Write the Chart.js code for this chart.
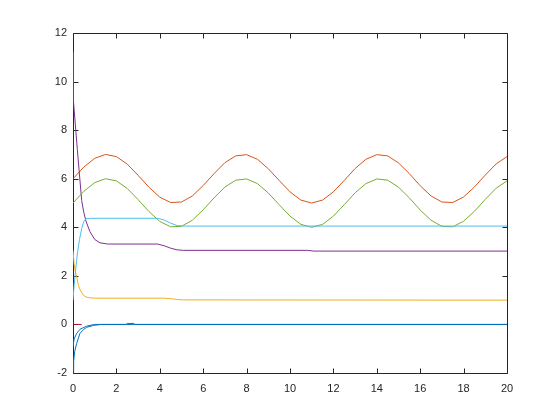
<!DOCTYPE html>
<html>
<head>
<meta charset="utf-8">
<script src="https://cdn.jsdelivr.net/npm/chart.js@4/dist/chart.umd.min.js"></script>
<style>
html,body{margin:0;padding:0;background:#fff;}
#c{display:block;}
</style>
</head>
<body>
<canvas id="c" width="560" height="420"></canvas>
<script>
// ---- data ----
const xTicks = [0, 2, 4, 6, 8, 10, 12, 14, 16, 18, 20];
const yTicks = [-2, 0, 2, 4, 6, 8, 10, 12];

const tWave = [0,0.5,1,1.5,2,2.5,3,3.5,4,4.5,5,5.5,6,6.5,7,7.5,8,8.5,9,9.5,10,10.5,11,11.5,12,12.5,13,13.5,14,14.5,15,15.5,16,16.5,17,17.5,18,18.5,19,19.5,20];
const orangeVals = [6.00,6.48,6.84,7.00,6.91,6.60,6.14,5.65,5.24,5.02,5.04,5.29,5.72,6.21,6.66,6.94,6.99,6.80,6.41,5.93,5.46,5.12,5.00,5.12,5.46,5.93,6.42,6.80,6.99,6.94,6.65,6.21,5.71,5.29,5.04,5.02,5.25,5.66,6.15,6.61,6.91];
const greenVals  = [5.00,5.48,5.84,6.00,5.91,5.60,5.14,4.65,4.24,4.02,4.04,4.29,4.72,5.21,5.66,5.94,5.99,5.80,5.41,4.93,4.46,4.12,4.00,4.12,4.46,4.93,5.42,5.80,5.99,5.94,5.65,5.21,4.71,4.29,4.04,4.02,4.25,4.66,5.15,5.61,5.91];

const tPurple = [0,0.02,0.2,0.4,0.5,0.6,0.78,1.0,1.24,1.6,3.9,4.2,4.5,4.8,5.1,10.8,11.1,20];
const purpleVals = [11.2,9.2,7.2,5.1,4.6,4.25,3.82,3.5,3.36,3.31,3.31,3.24,3.14,3.07,3.05,3.05,3.02,3.02];

const tLightBlue = [0,0.05,0.1,0.2,0.3,0.4,0.5,0.6,0.8,3.9,4.2,4.5,4.8,5.1,20];
const lightBlueVals = [1.0,1.6,2.05,2.9,3.5,3.95,4.25,4.35,4.37,4.37,4.3,4.17,4.07,4.05,4.05];

const tYellow = [0,0.05,0.1,0.17,0.25,0.35,0.47,0.6,0.8,1.2,4.2,4.5,4.8,5.1,20];
const yellowVals = [3.05,2.5,2.2,1.96,1.6,1.38,1.21,1.13,1.09,1.08,1.08,1.06,1.03,1.01,1.0];

const tBlueA = [0,0.03,0.08,0.17,0.32,0.5,0.63,0.94,1.3,20];
const blueAVals = [-1.95,-1.5,-1.1,-0.78,-0.37,-0.2,-0.12,-0.04,0,0];

const tBlueB = [0,0.05,0.17,0.32,0.63,1.0,2.45,2.5,2.8,2.85,20];
const blueBVals = [-0.92,-0.6,-0.37,-0.2,-0.07,0,0,0.04,0.04,0,0];

const tRed = [0,0.4];
const redVals = [0,0];

function pts(t, v){ return t.map((x,i)=>({x:x, y:v[i]})); }

const ink = '#262626';
const fontSpec = {family:'"Liberation Sans", Arial, sans-serif', size:11};

const boxPlugin = {
  id:'matlabBox',
  beforeDatasetsDraw(chart){
    const {ctx, chartArea:a, scales:{x, y}} = chart;
    ctx.save();
    ctx.strokeStyle = ink;
    ctx.lineWidth = 1;
    ctx.beginPath();
    const L = Math.round(a.left)+0.5, R = Math.round(a.right)+0.5, T = Math.round(a.top)+0.5, B = Math.round(a.bottom)+0.5;
    ctx.rect(L, T, R-L, B-T);
    const tl = 5;
    xTicks.forEach(v=>{
      const px = Math.round(x.getPixelForValue(v))+0.5;
      ctx.moveTo(px,B); ctx.lineTo(px,B-tl);
      ctx.moveTo(px,T); ctx.lineTo(px,T+tl);
    });
    yTicks.forEach(v=>{
      const py = Math.round(y.getPixelForValue(v))+0.5;
      ctx.moveTo(L,py); ctx.lineTo(L+tl,py);
      ctx.moveTo(R,py); ctx.lineTo(R-tl,py);
    });
    ctx.stroke();
    ctx.restore();
  }
};

function ds(label, data, color, order){
  return {label, data, borderColor:color, backgroundColor:color, borderWidth:1, pointRadius:0, tension:0, fill:false, order};
}

new Chart(document.getElementById('c'), {
  type:'line',
  data:{
    datasets:[
      ds('red', pts(tRed, redVals), '#A2142F', 9),
      ds('blueA', pts(tBlueA, blueAVals), '#0072BD', 8),
      ds('blueB', pts(tBlueB, blueBVals), '#0072BD', 7),
      ds('orange', pts(tWave, orangeVals), '#D95319', 6),
      ds('yellow', pts(tYellow, yellowVals), '#EDB120', 5),
      ds('purple', pts(tPurple, purpleVals), '#7E2F8E', 4),
      ds('green', pts(tWave, greenVals), '#77AC30', 3),
      ds('lightblue', pts(tLightBlue, lightBlueVals), '#4DBEEE', 2)
    ]
  },
  options:{
    responsive:false,
    animation:false,
    events:[],
    layout:{padding:{top:33, right:53, left:0, bottom:0}},
    plugins:{legend:{display:false}, tooltip:{enabled:false}},
    scales:{
      x:{
        type:'linear', min:0, max:20,
        grid:{display:false, drawTicks:false},
        border:{display:false},
        afterBuildTicks(s){ s.ticks = xTicks.map(v=>({value:v})); },
        afterFit(s){ s.height = 47; },
        ticks:{color:ink, font:fontSpec, padding:9, maxRotation:0, autoSkip:false}
      },
      y:{
        type:'linear', min:-2, max:12,
        grid:{display:false, drawTicks:false},
        border:{display:false},
        afterBuildTicks(s){ s.ticks = yTicks.map(v=>({value:v})); },
        afterFit(s){ s.width = 73; },
        ticks:{color:ink, font:fontSpec, padding:6, autoSkip:false}
      }
    }
  },
  plugins:[boxPlugin]
});
</script>
</body>
</html>
